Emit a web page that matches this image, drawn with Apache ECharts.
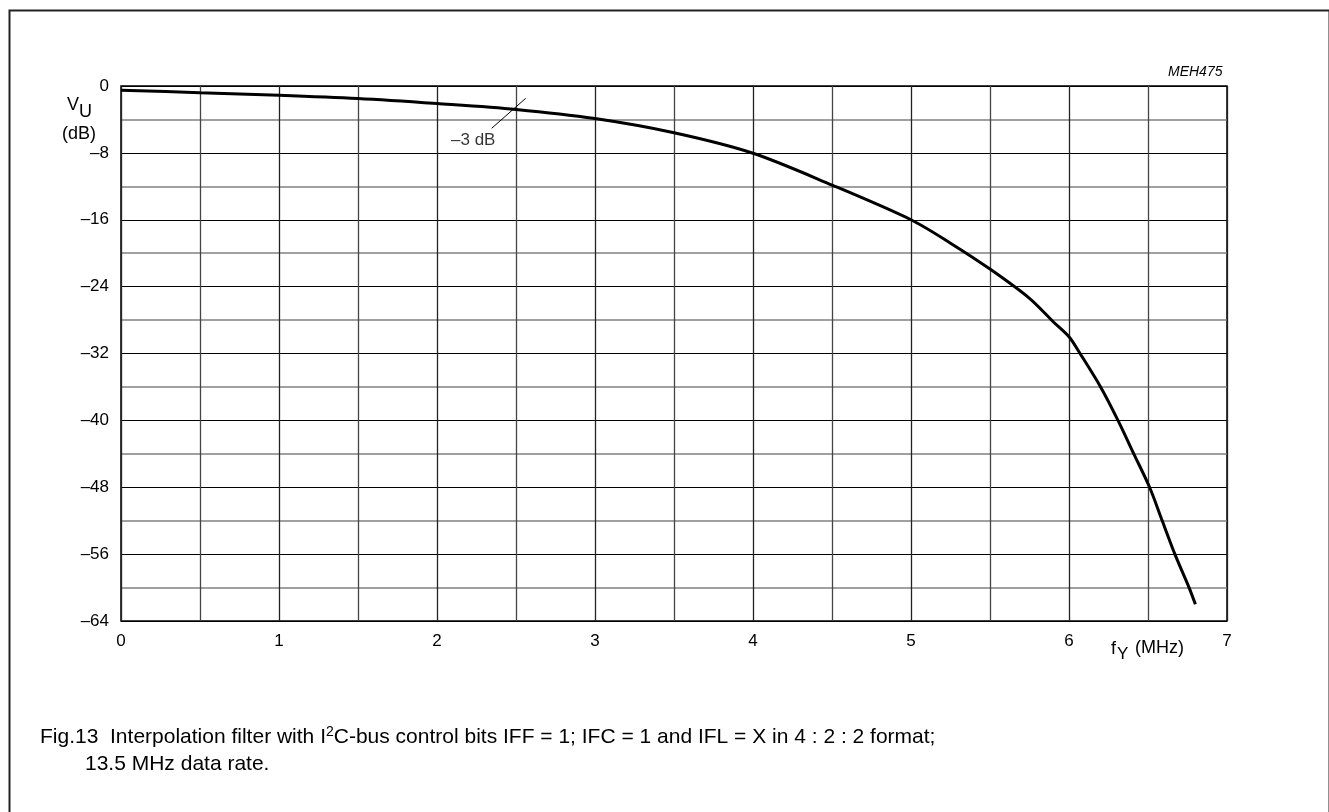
<!DOCTYPE html>
<html>
<head>
<meta charset="utf-8">
<script src="https://cdn.jsdelivr.net/npm/echarts@6/dist/echarts.min.js"></script>
<style>
html,body{margin:0;padding:0;background:#fff;}
#chart{width:1329px;height:812px;}
</style>
</head>
<body>
<div id="chart"></div>
<script>
// Frequency (MHz) and gain (dB)
const freq = [0, 0.5, 1, 1.5, 2, 2.5, 3, 3.5, 4, 4.5, 5, 5.25, 5.5, 5.75, 5.9, 6.0, 6.07, 6.2, 6.31, 6.41, 6.51, 6.59, 6.67, 6.76, 6.80];
const gain = [-0.5, -0.8, -1.1, -1.5, -2.1, -2.8, -3.9, -5.6, -8.05, -11.85, -16, -18.8, -21.9, -25.4, -28.2, -30, -32, -36, -40, -44, -48, -52, -56, -60, -62];
// -3 dB marker stroke and label anchor
const markerX = [2.346, 2.561];
const markerY = [-5.06, -1.48];
const markerLabelX = [2.37];
const markerLabelY = [-6.5];
const markerText = '\u20133 dB';
// axis ticks
const xTicks = { min: 0, max: 7, step: 1 };
const yTicks = { min: -64, max: 0, step: 8 };

const FONT = '"Liberation Sans", Arial, sans-serif';
const chart = echarts.init(document.getElementById('chart'), null, { renderer: 'canvas' });

const curveData = freq.map((f, i) => [f, gain[i]]);
const markerData = markerX.map((x, i) => [x, markerY[i]]);
const markerLabelData = markerLabelX.map((x, i) => [x, markerLabelY[i]]);

const option = {
  backgroundColor: '#fff',
  animation: false,
  grid: { left: 121, right: 102, top: 86, bottom: 191, show: true, borderColor: '#000', borderWidth: 1.5, backgroundColor: 'transparent' },
  xAxis: {
    type: 'value', min: xTicks.min, max: xTicks.max, interval: xTicks.step,
    axisLine: { show: false }, axisTick: { show: false },
    axisLabel: { color: '#000', fontFamily: FONT, fontSize: 17, margin: 12 },
    splitLine: { show: true, lineStyle: { color: '#222', width: 1.3 } },
    minorTick: { show: false, splitNumber: 2 },
    minorSplitLine: { show: true, lineStyle: { color: '#444', width: 1.3 } }
  },
  yAxis: {
    type: 'value', min: yTicks.min, max: yTicks.max, interval: yTicks.step,
    axisLine: { show: false }, axisTick: { show: false },
    axisLabel: { color: '#000', fontFamily: FONT, fontSize: 17, margin: 12,
      formatter: v => v < 0 ? '\u2013' + (-v) : String(v) },
    splitLine: { show: true, lineStyle: { color: '#000', width: 1.2 } },
    minorTick: { show: false, splitNumber: 2 },
    minorSplitLine: { show: true, lineStyle: { color: '#808080', width: 1.6 } }
  },
  series: [
    { type: 'line', data: curveData, symbol: 'none', smooth: 0.3,
      lineStyle: { color: '#000', width: 3 }, z: 5 },
    { type: 'line', data: markerData, symbol: 'none',
      lineStyle: { color: '#000', width: 1 }, z: 6 },
    { type: 'scatter', data: markerLabelData, symbolSize: 0,
      label: { show: true, position: 'left', distance: 0, formatter: markerText,
        color: '#000', fontFamily: FONT, fontSize: 17 }, z: 6 }
  ],
  graphic: [
    { type: 'rect', left: 7, top: 8, shape: { width: 1320, height: 830 },
      style: { fill: 'none', stroke: '#222', lineWidth: 2 }, z: 100 },
    { type: 'text', left: 1168, top: 65, style: { text: 'MEH475', font: 'italic 14px ' + FONT, fill: '#000' } },
    { type: 'text', left: 67, top: 96, style: { text: 'V', font: '18px ' + FONT, fill: '#000' } },
    { type: 'text', left: 79, top: 103, style: { text: 'U', font: '18px ' + FONT, fill: '#000' } },
    { type: 'text', left: 62, top: 125, style: { text: '(dB)', font: '18px ' + FONT, fill: '#000' } },
    { type: 'text', left: 1111, top: 640, style: { text: 'f', font: '18px ' + FONT, fill: '#000' } },
    { type: 'text', left: 1117, top: 646, style: { text: 'Y', font: '17px ' + FONT, fill: '#000' } },
    { type: 'text', left: 1135, top: 639, style: { text: '(MHz)', font: '18px ' + FONT, fill: '#000' } },
    { type: 'text', left: 40, top: 725, style: {
        text: '{a|Fig.13  Interpolation filter with I}{s|2}{a|C-bus control bits IFF = 1; IFC = 1 and IFL = X in 4 : 2 : 2 format;}',
        rich: {
          a: { fontFamily: FONT, fontSize: 21, fill: '#000', lineHeight: 24 },
          s: { fontFamily: FONT, fontSize: 14, fill: '#000', lineHeight: 24, verticalAlign: 'top', padding: [0, 0, 8, 0] }
        } } },
    { type: 'text', left: 85, top: 754, style: { text: '13.5 MHz data rate.', font: '21px ' + FONT, fill: '#000' } }
  ]
};
chart.setOption(option);
</script>
</body>
</html>
